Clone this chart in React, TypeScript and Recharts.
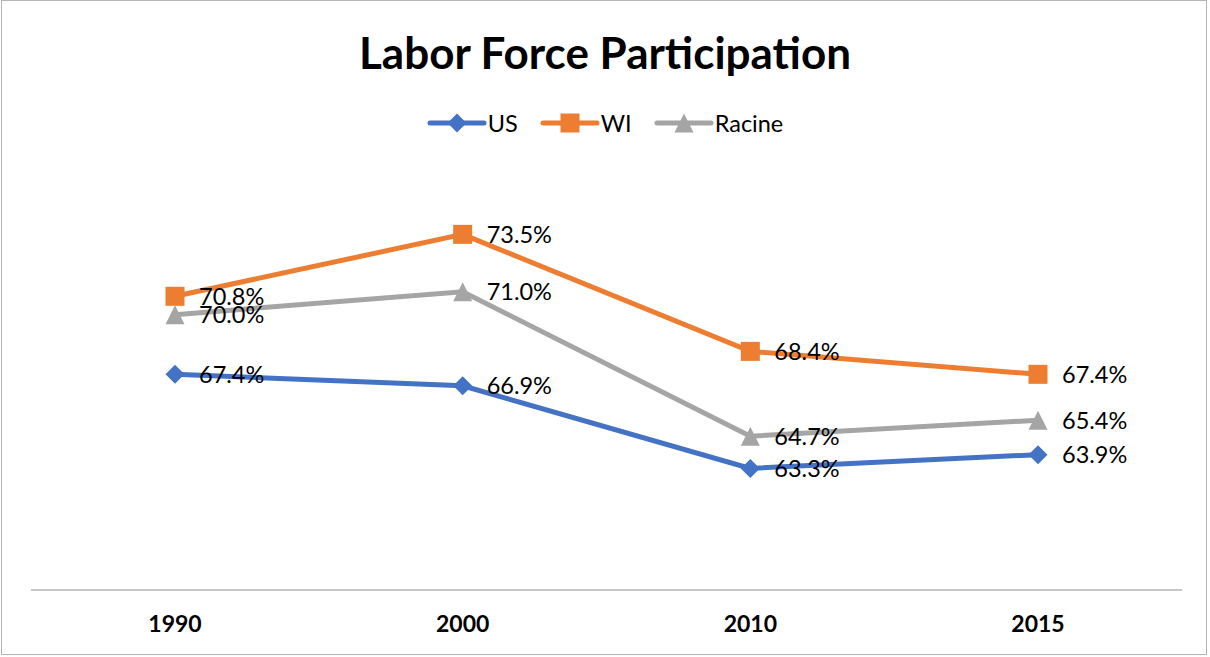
import React from "react";
import { LineChart, Line, XAxis, YAxis, LabelList } from "recharts";

const years = ["1990", "2000", "2010", "2015"];
const usValues = [67.4, 66.9, 63.3, 63.9];
const wiValues = [70.8, 73.5, 68.4, 67.4];
const racineValues = [70.0, 71.0, 64.7, 65.4];

const seriesInfo = [
  { key: "US", color: "#4472C4", shape: "diamond" },
  { key: "WI", color: "#ED7D31", shape: "square" },
  { key: "Racine", color: "#A5A5A5", shape: "triangle" },
];

const data = years.map((y, i) => ({
  year: y,
  US: usValues[i],
  WI: wiValues[i],
  Racine: racineValues[i],
}));

const FONT = "Lato, 'Open Sans', sans-serif";

function Marker({ cx, cy, color, shape }: any) {
  if (cx == null || cy == null) return null;
  if (shape === "diamond") {
    const r = 9.5;
    return <polygon points={`${cx},${cy - r} ${cx + r},${cy} ${cx},${cy + r} ${cx - r},${cy}`} fill={color} />;
  }
  if (shape === "square") {
    const s = 9.5;
    return <rect x={cx - s} y={cy - s} width={2 * s} height={2 * s} fill={color} />;
  }
  const h = 9.5;
  return <polygon points={`${cx},${cy - h} ${cx + h},${cy + h} ${cx - h},${cy + h}`} fill={color} />;
}

function LegendSwatch({ color, shape }: any) {
  return (
    <svg width={60} height={22} style={{ display: "block" }}>
      <line x1={3} y1={11} x2={57} y2={11} stroke={color} strokeWidth={5} strokeLinecap="round" />
      <Marker cx={30} cy={11} color={color} shape={shape} />
    </svg>
  );
}

const renderLabel = (props: any) => {
  const { x, y, value } = props;
  return (
    <text x={x + 24} y={y} dy="0.36em" fontSize={23.5} fontFamily={FONT} fill="#000" textAnchor="start">
      {`${Number(value).toFixed(1)}%`}
    </text>
  );
};

export default function App() {
  return (
    <div style={{ position: "absolute", left: 0, top: 0, width: 1210, height: 657, background: "#fff" }}>
      <div
        style={{
          position: "absolute",
          left: 1,
          top: 0,
          width: 1206,
          height: 655,
          border: "1.5px solid #b4b4b4",
          boxSizing: "border-box",
        }}
      />
      <div
        style={{
          position: "absolute",
          left: 0,
          top: 22,
          width: 1210,
          textAlign: "center",
          fontFamily: FONT,
          fontWeight: 700,
          fontSize: 44,
          color: "#000",
          lineHeight: "60px",
        }}
      >
        Labor Force Participation
      </div>
      <div
        style={{
          position: "absolute",
          left: 0,
          top: 108,
          width: 1210,
          display: "flex",
          justifyContent: "center",
          alignItems: "center",
          fontFamily: FONT,
          fontSize: 23.5,
          color: "#000",
          lineHeight: "30px",
        }}
      >
        {seriesInfo.map((s, i) => (
          <div key={s.key} style={{ display: "flex", alignItems: "center", marginRight: i < 2 ? 22 : 0 }}>
            <LegendSwatch color={s.color} shape={s.shape} />
            <span style={{ marginLeft: 1 }}>{s.key}</span>
          </div>
        ))}
      </div>
      <div style={{ position: "absolute", left: 0, top: 0 }}>
        <LineChart width={1210} height={657} data={data} margin={{ top: 177, right: 28, bottom: 37, left: 31 }}>
          <XAxis
            dataKey="year"
            axisLine={{ stroke: "#b4b4b4", strokeWidth: 1.5 }}
            tickLine={false}
            height={30}
            padding={{ left: 144, right: 144 }}
            tick={{ fontSize: 23, fontWeight: 700, fill: "#000", fontFamily: FONT }}
            tickMargin={20}
          />
          <YAxis hide domain={[58, 76]} />
          {seriesInfo.map((s) => (
            <Line
              key={s.key}
              dataKey={s.key}
              stroke={s.color}
              strokeWidth={5}
              isAnimationActive={false}
              dot={(p: any) => <Marker key={`${s.key}-${p.index}`} cx={p.cx} cy={p.cy} color={s.color} shape={s.shape} />}
              activeDot={false}
            >
              <LabelList dataKey={s.key} content={renderLabel} />
            </Line>
          ))}
        </LineChart>
      </div>
    </div>
  );
}
